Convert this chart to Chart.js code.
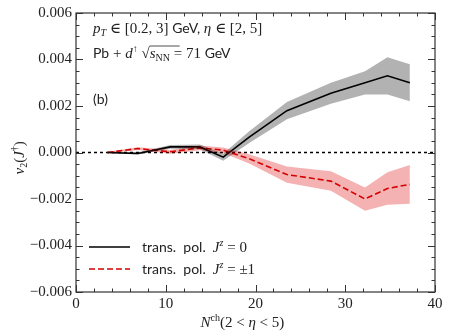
<!DOCTYPE html>
<html>
<head>
<meta charset="utf-8">
<script src="https://cdn.jsdelivr.net/npm/chart.js@4"></script>
<style>
  html, body { margin: 0; padding: 0; background: #fff; }
  #wrap { width: 449px; height: 336px; }
</style>
</head>
<body>
<div id="wrap"><canvas id="chart" width="449" height="336"></canvas></div>
<script>
/* ================= DATA ================= */

const nch = [3.5, 6.9, 10.5, 13.8, 16.4, 19.3, 23.5, 28.4, 32.2, 34.7, 37.2];

const v2Long = [0, -0.00004, 0.00024, 0.00024, -0.0002, 0.00066, 0.0018, 0.00255, 0.003, 0.0033, 0.003];
const errLong = [0.00003, 0.00005, 0.00008, 0.0001, 0.00015, 0.00025, 0.00037, 0.00045, 0.0005, 0.0008, 0.0008];

const v2Trans = [0, 0.00017, 0.00003, 0.0002, 0.0001, -0.00027, -0.00095, -0.00123, -0.002, -0.00155, -0.00137];
const errTrans = [0.00003, 0.00006, 0.00008, 0.0001, 0.00012, 0.0002, 0.00035, 0.00042, 0.0005, 0.0007, 0.00083];

const xTicks = [0, 10, 20, 30, 40];
const yTicks = [-0.006, -0.004, -0.002, 0, 0.002, 0.004, 0.006];

/* ================= HELPERS ================= */

function pts(ys, errs, sign) {
  return nch.map((x, i) => ({ x: x, y: ys[i] + sign * (errs ? errs[i] : 0) }));
}

const SERIF = '"Liberation Serif", "DejaVu Serif", serif';
const SANS = 'Lato, "Open Sans", sans-serif';

// draws a list of [text, font, dy] pieces one after another
function rich(ctx, x, y, parts) {
  ctx.save();
  ctx.textBaseline = "alphabetic";
  ctx.textAlign = "left";
  ctx.fillStyle = "#222";
  parts.forEach(p => {
    ctx.font = p[1];
    ctx.fillText(p[0], x, y + (p[2] || 0));
    x += ctx.measureText(p[0]).width;
  });
  ctx.restore();
  return x;
}

/* ================= DECORATION PLUGIN ================= */

const decor = {
  id: "decor",
  beforeDatasetsDraw(chart) {
    const { ctx, chartArea: a, scales: { x, y } } = chart;
    // zero line
    ctx.save();
    ctx.strokeStyle = "#000";
    ctx.lineWidth = 1.5;
    ctx.setLineDash([3, 3]);
    ctx.beginPath();
    ctx.moveTo(a.left, y.getPixelForValue(0));
    ctx.lineTo(a.right, y.getPixelForValue(0));
    ctx.stroke();
    ctx.restore();
  },
  afterDraw(chart) {
    const { ctx, chartArea: a, scales: { x, y } } = chart;
    ctx.save();
    ctx.strokeStyle = "#333";
    ctx.lineWidth = 1.2;
    ctx.strokeRect(a.left, a.top, a.right - a.left, a.bottom - a.top);

    // inward ticks
    ctx.lineWidth = 1;
    ctx.beginPath();
    for (let v = 0; v <= 40; v += 2) {
      const px = Math.round(x.getPixelForValue(v)) + 0.5;
      const len = v % 10 === 0 ? 7 : 3.5;
      ctx.moveTo(px, a.bottom); ctx.lineTo(px, a.bottom - len);
      ctx.moveTo(px, a.top); ctx.lineTo(px, a.top + len);
    }
    for (let k = -12; k <= 12; k++) {
      const py = Math.round(y.getPixelForValue(k * 0.0005)) + 0.5;
      const len = k % 4 === 0 ? 7 : 3.5;
      ctx.moveTo(a.left, py); ctx.lineTo(a.left + len, py);
      ctx.moveTo(a.right, py); ctx.lineTo(a.right - len, py);
    }
    ctx.stroke();
    ctx.restore();

    // annotation text
    const it = "italic 15px " + SERIF;
    const rm = "15px " + SERIF;
    const sf = "14px " + SANS;
    const small = "10px " + SERIF;
    const smallIt = "italic 10px " + SERIF;
    let cx = rich(ctx, 93, 33, [["p", it], ["T", smallIt, 3], [" ∈ [0.2, 3] ", rm], ["GeV, ", sf], ["η", it], [" ∈ [2, 5]", rm]]);
    cx = rich(ctx, 93, 58, [["Pb", sf], [" + ", rm], ["d", it], ["↑", small, -6], [" √", rm]]);
    ctx.save();
    ctx.strokeStyle = "#222";
    ctx.lineWidth = 0.8;
    ctx.beginPath();
    ctx.moveTo(cx, 46); ctx.lineTo(cx + 30, 46);
    ctx.stroke();
    ctx.restore();
    rich(ctx, cx, 58, [["s", it], ["NN", small, 3], [" = 71 ", rm], ["GeV", sf]]);
    rich(ctx, 93, 104, [["(b)", sf]]);

    // legend
    const legend = [
      ["#000", [], "= 0"],
      ["#d40000", [6, 3], "= ±1"]
    ];
    legend.forEach((l, i) => {
      const ly = 247 + i * 22;
      ctx.save();
      ctx.strokeStyle = l[0];
      ctx.lineWidth = 1.6;
      ctx.setLineDash(l[1]);
      ctx.beginPath();
      ctx.moveTo(89, ly); ctx.lineTo(130, ly);
      ctx.stroke();
      ctx.restore();
      rich(ctx, 142, ly + 5, [["trans.  pol.  ", sf], ["J", it], ["z", smallIt, -6], [" " + l[2], rm]]);
    });

    // axis titles
    const mid = (a.left + a.right) / 2;
    ctx.save();
    ctx.font = rm;
    rich(ctx, mid - 55, 327, [["N", it], ["ch", small, -6], ["(2 < ", rm], ["η", it], [" < 5)", rm]]);
    ctx.translate(24, (a.top + a.bottom) / 2);
    ctx.rotate(-Math.PI / 2);
    rich(ctx, -22, 0, [["v", it], ["2", small, 3], ["(", rm], ["J", it], ["†", small, -6], [")", rm]]);
    ctx.restore();
  }
};

/* ================= CHART ================= */

const grey = "rgba(0,0,0,0.3)";
const pink = "rgba(220,0,0,0.3)";

new Chart(document.getElementById("chart"), {
  type: "line",
  data: {
    datasets: [
      { data: pts(v2Long, errLong, 1), borderWidth: 0, pointRadius: 0, fill: "+1", backgroundColor: grey, tension: 0 },
      { data: pts(v2Long, errLong, -1), borderWidth: 0, pointRadius: 0, fill: false },
      { data: pts(v2Trans, errTrans, 1), borderWidth: 0, pointRadius: 0, fill: "+1", backgroundColor: pink },
      { data: pts(v2Trans, errTrans, -1), borderWidth: 0, pointRadius: 0, fill: false },
      { data: pts(v2Long, null, 0), borderColor: "#000", borderWidth: 1.6, pointRadius: 0, fill: false },
      { data: pts(v2Trans, null, 0), borderColor: "#d40000", borderWidth: 1.6, borderDash: [6, 3], pointRadius: 0, fill: false }
    ]
  },
  options: {
    responsive: false,
    animation: false,
    layout: { padding: { top: 6, right: 14, left: 0, bottom: 0 } },
    plugins: { legend: { display: false }, tooltip: { enabled: false } },
    scales: {
      x: {
        type: "linear",
        min: 0, max: 40,
        afterFit: s => { s.height = 44; },
        afterBuildTicks: s => { s.ticks = xTicks.map(v => ({ value: v })); },
        grid: { display: false, drawTicks: false },
        border: { display: false },
        ticks: { color: "#222", padding: 3, font: { family: SERIF, size: 15 }, maxRotation: 0 }
      },
      y: {
        min: -0.006, max: 0.006,
        afterFit: s => { s.width = 76; },
        afterBuildTicks: s => { s.ticks = yTicks.map(v => ({ value: v })); },
        grid: { display: false, drawTicks: false },
        border: { display: false },
        ticks: {
          color: "#222", padding: 4, font: { family: SERIF, size: 15 },
          callback: v => (v < -1e-9 ? "−" : "") + Math.abs(v).toFixed(3)
        }
      }
    }
  },
  plugins: [decor]
});
</script>
</body>
</html>
